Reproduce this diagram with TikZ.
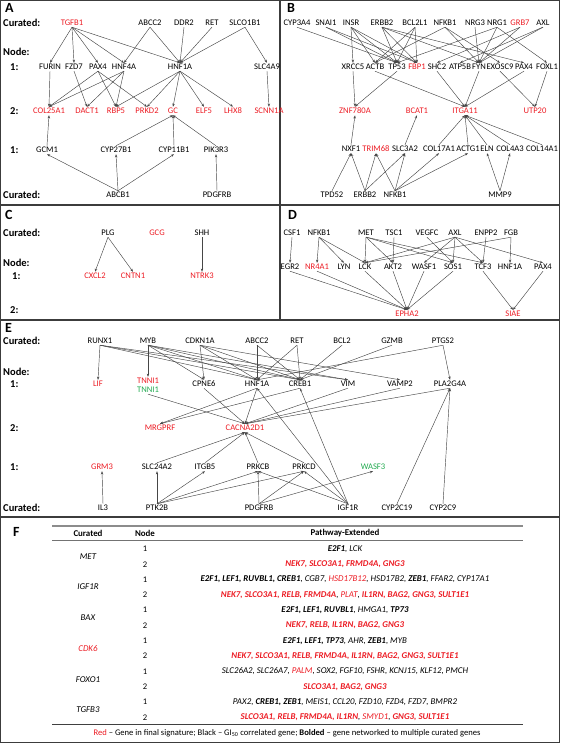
\documentclass[tikz,border=0pt]{standalone}
\usepackage{fontspec}
\setmainfont{Carlito}
\usetikzlibrary{arrows.meta}
\definecolor{sigred}{RGB}{236,28,36}
\definecolor{siggreen}{RGB}{34,170,80}
\definecolor{linkgray}{RGB}{70,70,70}
\definecolor{framegray}{RGB}{60,60,60}
\newcommand{\rg}[1]{\textcolor{sigred}{#1}}
\newcommand{\rb}[1]{\textcolor{sigred}{\textbf{#1}}}
\newcommand{\bg}[1]{\textbf{#1}}
\tikzset{
  gene/.style={inner sep=1.2pt, font=\fontsize{8.6}{10}\selectfont},
  rowlbl/.style={anchor=west, inner sep=0pt, font=\fontsize{10.5}{12}\selectfont\bfseries},
  panel/.style={anchor=west, inner sep=0pt, font=\fontsize{14}{16}\selectfont\bfseries},
  link/.style={linkgray, line width=0.45pt, -{Stealth[length=3.2pt,width=2.4pt]}},
  tcell/.style={inner sep=0pt, font=\fontsize{8.9}{10}\selectfont\itshape},
  thead/.style={inner sep=0pt, font=\fontsize{8.9}{10}\selectfont\bfseries},
  tnum/.style={inner sep=0pt, font=\fontsize{8.6}{10}\selectfont},
}
\begin{document}
\begin{tikzpicture}[x=1pt, y=-1pt]
  \useasboundingbox (0,0) rectangle (560,743);
  \draw[framegray, line width=1.3pt] (0.65,0.65) rectangle (559.35,742.35);
  \draw[framegray, line width=1.3pt] (0,205) -- (560,205) (0,320) -- (560,320)
    (0,517) -- (560,517) (280,0) -- (280,320);
  \foreach \nm/\xx/\yy in {A/5/8, B/287/8, C/5/215, D/288/215, E/5/328, F/13/532}
    \node[panel] (p\nm) at (\xx,\yy) {\nm};

  \foreach \lb/\tx/\xx/\yy in {aCur/Curated:/3/23, aNode/Node:/3/52, aOne/1:/10/67,
    aTwo/2:/10/111, aThree/1:/10/150, aBot/Curated:/3/195,
    cCur/Curated:/3/233, cNode/Node:/3/263, cOne/1:/12/276, cTwo/2:/10/310,
    eCur/Curated:/3/341, eNode/Node:/3/372, eOne/1:/10/384, eTwo/2:/10/428,
    eThree/1:/10/467, eBot/Curated:/3/508}
    \node[rowlbl] (\lb) at (\xx,\yy) {\tx};

  \foreach \nm/\xx/\cl in {TGFB1/72/sigred, ABCC2/150/black, DDR2/184/black,
    RET/212/black, SLCO1B1/245/black}
    \node[gene, text=\cl] (at\nm) at (\xx,23) {\nm};
  \foreach \nm/\xx in {FURIN/50, FZD7/74, PAX4/98, HNF4A/124, HNF1A/180, SLC4A9/267}
    \node[gene] (a1\nm) at (\xx,67) {\nm};
  \foreach \nm/\xx in {COL25A1/49, DACT1/87, RBP5/116, PRKD2/147, GC/173, ELF5/204,
    LHX8/233, SCNN1A/269}
    \node[gene, text=sigred] (a2\nm) at (\xx,111) {\nm};
  \foreach \nm/\xx in {GCM1/47, CYP27B1/116, CYP11B1/174, PIK3R3/216}
    \node[gene] (a3\nm) at (\xx,150) {\nm};
  \foreach \nm/\xx in {ABCB1/118, PDGFRB/217}
    \node[gene] (ab\nm) at (\xx,195) {\nm};
  \foreach \s/\t in {TGFB1/FURIN, TGFB1/FZD7, TGFB1/PAX4, TGFB1/HNF4A, TGFB1/HNF1A,
    ABCC2/HNF4A, ABCC2/HNF1A, DDR2/HNF1A, RET/HNF1A, SLCO1B1/HNF1A, SLCO1B1/SLC4A9}
    \draw[link] (at\s.south) -- (a1\t.north);
  \foreach \s/\t in {FURIN/COL25A1, FZD7/DACT1, PAX4/COL25A1, PAX4/RBP5, PAX4/PRKD2,
    HNF4A/COL25A1, HNF4A/DACT1, HNF4A/RBP5, HNF1A/RBP5, HNF1A/PRKD2, HNF1A/GC,
    HNF1A/ELF5, HNF1A/LHX8, SLC4A9/SCNN1A}
    \draw[link] (a1\s.south) -- (a2\t.north);
  \foreach \s/\t in {GCM1/COL25A1, CYP27B1/GC, CYP11B1/GC, PIK3R3/GC}
    \draw[link] (a3\s.north) -- (a2\t.south);
  \foreach \s/\t in {ABCB1/GCM1, ABCB1/CYP27B1, ABCB1/CYP11B1, PDGFRB/PIK3R3}
    \draw[link] (ab\s.north) -- (a3\t.south);

  \foreach \nm/\xx/\cl in {CYP3A4/297/black, SNAI1/326/black, INSR/351/black,
    ERBB2/382/black, BCL2L1/415/black, NFKB1/445/black, NRG3/475/black,
    NRG1/497/black, GRB7/520/sigred, AXL/543/black}
    \node[gene, text=\cl] (bt\nm) at (\xx,23) {\nm};
  \foreach \nm/\xx/\cl in {XRCC5/353/black, ACTB/375/black, TP53/397/black,
    FBP1/417/sigred, SHC2/437/black, ATP5B/460/black, FYN/479/black,
    EXOSC9/500/black, PAX4/524/black, FOXL1/547/black}
    \node[gene, text=\cl] (b1\nm) at (\xx,67) {\nm};
  \foreach \nm/\xx in {ZNF780A/355, BCAT1/417, ITGA11/465, UTP20/535}
    \node[gene, text=sigred] (b2\nm) at (\xx,111) {\nm};
  \foreach \nm/\xx/\cl in {NXF1/351/black, TRIM68/376/sigred, SLC3A2/405/black,
    COL17A1/439/black, ACTG1/468/black, ELN/487/black, COL4A3/510/black,
    COL14A1/542/black}
    \node[gene, text=\cl] (b3\nm) at (\xx,149) {\nm};
  \foreach \nm/\xx in {TPD52/332, ERBB2/365, NFKB1/395, MMP9/500}
    \node[gene] (bb\nm) at (\xx,195) {\nm};
  \foreach \s/\t in {CYP3A4/TP53, SNAI1/TP53, SNAI1/FBP1, INSR/XRCC5, INSR/ACTB,
    INSR/TP53, INSR/FBP1, ERBB2/TP53, ERBB2/FBP1, ERBB2/FYN, ERBB2/PAX4,
    BCL2L1/ACTB, BCL2L1/TP53, BCL2L1/FBP1, NFKB1/ACTB, NFKB1/FYN, NFKB1/EXOSC9,
    NRG3/FYN, NRG1/TP53, NRG1/FYN, NRG1/FOXL1, GRB7/SHC2, GRB7/FYN, AXL/ATP5B,
    AXL/FYN}
    \draw[link] (bt\s.south) -- (b1\t.north);
  \foreach \s/\t in {XRCC5/ZNF780A, TP53/ZNF780A, ACTB/ITGA11, SHC2/ITGA11,
    FYN/ITGA11, PAX4/ITGA11, EXOSC9/UTP20, FOXL1/UTP20}
    \draw[link] (b1\s.south) -- (b2\t.north);
  \foreach \s/\t in {NXF1/ZNF780A, SLC3A2/BCAT1, COL17A1/ITGA11, ACTG1/ITGA11,
    ELN/ITGA11, COL4A3/ITGA11, COL14A1/ITGA11}
    \draw[link] (b3\s.north) -- (b2\t.south);
  \foreach \s/\t in {TPD52/NXF1, ERBB2/NXF1, ERBB2/TRIM68, ERBB2/SLC3A2,
    NFKB1/TRIM68, NFKB1/SLC3A2, NFKB1/COL17A1, NFKB1/ACTG1, MMP9/ELN, MMP9/COL4A3}
    \draw[link] (bb\s.north) -- (b3\t.south);

  \foreach \nm/\xx/\cl in {PLG/108/black, GCG/157/sigred, SHH/202/black}
    \node[gene, text=\cl] (ct\nm) at (\xx,233) {\nm};
  \foreach \nm/\xx in {CXCL2/95, CNTN1/133, NTRK3/202}
    \node[gene, text=sigred] (c1\nm) at (\xx,276) {\nm};
  \foreach \s/\t in {PLG/CXCL2, PLG/CNTN1, SHH/NTRK3}
    \draw[link] (ct\s.south) -- (c1\t.north);

  \foreach \nm/\xx in {CSF1/292, NFKB1/319, MET/366, TSC1/394, VEGFC/427, AXL/455,
    ENPP2/486, FGB/511}
    \node[gene] (dt\nm) at (\xx,233) {\nm};
  \foreach \nm/\xx/\cl in {EGR2/290/black, NR4A1/317/sigred, LYN/344/black,
    LCK/365/black, AKT2/393/black, WASF1/424/black, SOS1/453/black, TCF3/483/black,
    HNF1A/510/black, PAX4/543/black}
    \node[gene, text=\cl] (d1\nm) at (\xx,267) {\nm};
  \foreach \nm/\xx in {EPHA2/407, SIAE/513}
    \node[gene, text=sigred] (d2\nm) at (\xx,314) {\nm};
  \foreach \s/\t in {CSF1/EGR2, NFKB1/NR4A1, NFKB1/LYN, NFKB1/LCK, MET/LCK, MET/AKT2,
    MET/SOS1, MET/TCF3, TSC1/AKT2, VEGFC/SOS1, AXL/LCK, AXL/WASF1, AXL/SOS1,
    AXL/TCF3, AXL/PAX4, ENPP2/TCF3, FGB/HNF1A, FGB/LCK}
    \draw[link] (dt\s.south) -- (d1\t.north);
  \foreach \s/\t in {EGR2/EPHA2, NR4A1/EPHA2, LCK/EPHA2, AKT2/EPHA2, WASF1/EPHA2,
    SOS1/EPHA2, TCF3/SIAE, PAX4/SIAE}
    \draw[link] (d1\s.south) -- (d2\t.north);

  \foreach \nm/\xx in {RUNX1/100, MYB/148, CDKN1A/200, ABCC2/257, RET/297, BCL2/342,
    GZMB/392, PTGS2/443}
    \node[gene] (et\nm) at (\xx,341) {\nm};
  \foreach \nm/\tx/\xx/\yy/\cl in {LIF/LIF/98/384/sigred, TNNIr/TNNI1/148/381/sigred,
    TNNIg/TNNI1/148/390/siggreen, CPNE6/CPNE6/204/384/black,
    HNF1A/HNF1A/257/384/black, CREB1/CREB1/300/384/black, VIM/VIM/348/384/black,
    VAMP2/VAMP2/400/384/black, PLA2G4A/PLA2G4A/450/384/black}
    \node[gene, text=\cl] (e1\nm) at (\xx,\yy) {\tx};
  \foreach \nm/\xx in {MRGPRF/160, CACNA2D1/245}
    \node[gene, text=sigred] (e2\nm) at (\xx,428) {\nm};
  \foreach \nm/\xx/\cl in {GRM3/102/sigred, SLC24A2/157/black, ITGB5/205/black,
    PRKCB/258/black, PRKCD/304/black, WASF3/373/siggreen}
    \node[gene, text=\cl] (e3\nm) at (\xx,467) {\nm};
  \foreach \nm/\xx in {IL3/103, PTK2B/157, PDGFRB/259, IGF1R/348, CYP2C19/397,
    CYP2C9/443}
    \node[gene] (eb\nm) at (\xx,508) {\nm};
  \foreach \s/\t in {RUNX1/LIF, RUNX1/HNF1A, RUNX1/CREB1, RUNX1/VIM, MYB/TNNIr,
    MYB/CPNE6, MYB/HNF1A, MYB/CREB1, MYB/VIM, CDKN1A/CPNE6, CDKN1A/HNF1A,
    CDKN1A/CREB1, CDKN1A/VAMP2, ABCC2/HNF1A, ABCC2/CREB1, RET/HNF1A, RET/CREB1,
    BCL2/CREB1, GZMB/CREB1, PTGS2/HNF1A, PTGS2/PLA2G4A}
    \draw[link] (et\s.south) -- (e1\t.north);
  \foreach \s/\t in {TNNIg/CACNA2D1, CPNE6/CACNA2D1, HNF1A/MRGPRF, HNF1A/CACNA2D1,
    CREB1/MRGPRF, VIM/CACNA2D1, VAMP2/CACNA2D1, PLA2G4A/CACNA2D1}
    \draw[link] (e1\s.south) -- (e2\t.north);
  \foreach \s/\t in {SLC24A2/CACNA2D1, ITGB5/CACNA2D1, PRKCB/CACNA2D1,
    PRKCD/CACNA2D1}
    \draw[link] (e3\s.north) -- (e2\t.south);
  \foreach \s/\t in {IL3/GRM3, PTK2B/SLC24A2, PTK2B/ITGB5, PTK2B/PRKCB, PTK2B/PRKCD,
    PDGFRB/PRKCB, PDGFRB/PRKCD, PDGFRB/WASF3, IGF1R/PRKCB, IGF1R/PRKCD}
    \draw[link] (eb\s.north) -- (e3\t.south);
  \foreach \s/\t in {IGF1R/HNF1A, IGF1R/CREB1, CYP2C19/PLA2G4A, CYP2C9/PLA2G4A}
    \draw[link] (eb\s.north) -- (e1\t.south);

  \draw[black!45, line width=1.4pt] (52,526) -- (523,526);
  \draw[black!55, line width=0.6pt] (52,540) -- (523,540);
  \draw[black!75, line width=0.6pt] (52,724) -- (523,724);
  \node[thead] (hCur) at (88,533) {Curated};
  \node[thead] (hNode) at (145,533) {Node};
  \node[thead] (hPath) at (345,533) {Pathway-Extended};
  \foreach \nm/\yy/\cl in {MET/556.5/black, IGF1R/587/black, BAX/618/black,
    CDK6/649/sigred, FOXO1/680/black, TGFB3/710/black}
    \node[tcell, text=\cl] (cur\nm) at (88,\yy) {\nm};
  \foreach \i in {0,...,5} {
    \node[tnum] (nd\i a) at (145,{549+30.6*\i}) {1};
    \node[tnum] (nd\i b) at (145,{564.3+30.6*\i}) {2};
  }
  \foreach \i/\yy/\txt in {
    1/549/{\bg{E2F1}, LCK},
    2/564.3/{\rb{NEK7, SLCO3A1, FRMD4A, GNG3}},
    3/579.6/{\bg{E2F1, LEF1, RUVBL1, CREB1}, CGB7, \rg{HSD17B12}, HSD17B2, \bg{ZEB1}, FFAR2, CYP17A1},
    4/594.9/{\rb{NEK7, SLCO3A1, RELB, FRMD4A}, \rg{PLAT}, \rb{IL1RN, BAG2, GNG3, SULT1E1}},
    5/610.2/{\bg{E2F1, LEF1, RUVBL1}, HMGA1, \bg{TP73}},
    6/625.5/{\rb{NEK7, RELB, IL1RN, BAG2, GNG3}},
    7/640.8/{\bg{E2F1, LEF1, TP73}, AHR, \bg{ZEB1}, MYB},
    8/656.1/{\rb{NEK7, SLCO3A1, RELB, FRMD4A, IL1RN, BAG2, GNG3, SULT1E1}},
    9/671.4/{SLC26A2, SLC26A7, \rg{PALM}, SOX2, FGF10, FSHR, KCNJ15, KLF12, PMCH},
    10/686.7/{\rb{SLCO3A1, BAG2, GNG3}},
    11/702/{PAX2, \bg{CREB1, ZEB1}, MEIS1, CCL20, FZD10, FZD4, FZD7, BMPR2},
    12/717.3/{\rb{SLCO3A1, RELB, FRMD4A, IL1RN}, \rg{SMYD1}, \rb{GNG3, SULT1E1}}}
    \node[tcell] (path\i) at (345,\yy) {\txt};
  \node[tnum] (legend) at (287,733) {\textcolor{sigred}{Red} – Gene in final signature;
    Black – GI\textsubscript{50} correlated gene; \textbf{Bolded} – gene networked to
    multiple curated genes};
\end{tikzpicture}
\end{document}
